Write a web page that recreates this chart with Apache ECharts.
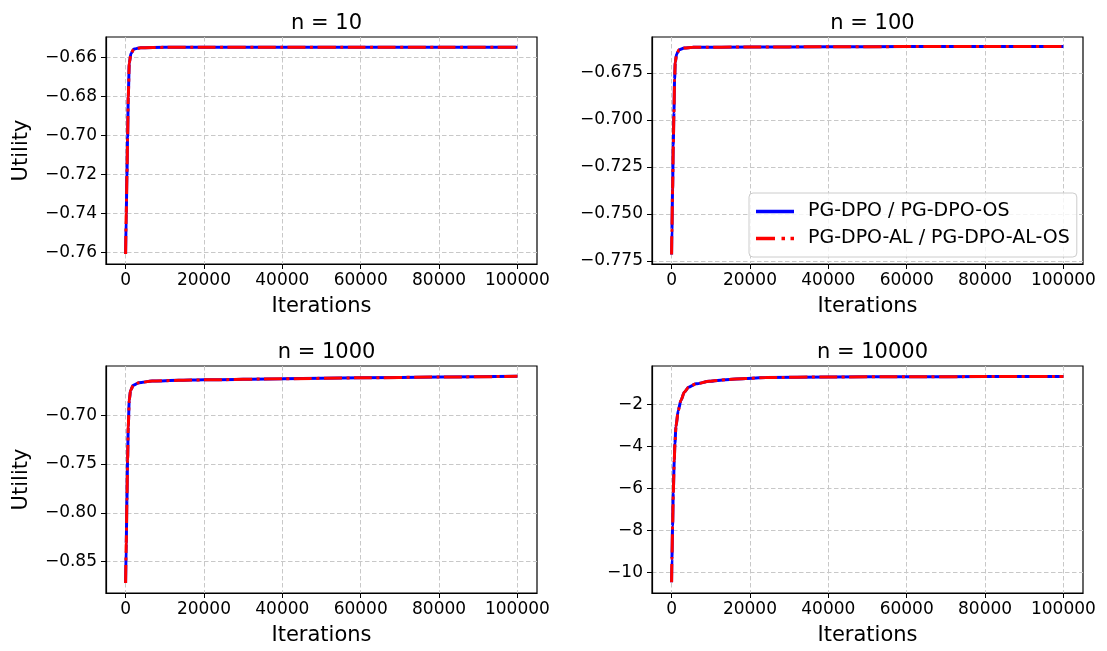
<!DOCTYPE html>
<html>
<head>
<meta charset="utf-8">
<script src="https://cdn.jsdelivr.net/npm/echarts@6/dist/echarts.min.js"></script>
<style>
html,body{margin:0;padding:0;background:#fff;}
#chart{width:1107px;height:651px;}
</style>
</head>
<body>
<div id="chart"></div>
<script>
// ---- data ----
const titles = ['n = 10', 'n = 100', 'n = 1000', 'n = 10000'];
const seriesNames = ['PG-DPO / PG-DPO-OS', 'PG-DPO-AL / PG-DPO-AL-OS'];
const xTicks = [0, 20000, 40000, 60000, 80000, 100000];

const iterN10 = [0, 171, 342, 513, 684, 940, 1368, 2137, 3846, 10000, 20000, 40000, 60000, 80000, 100000];
const utilN10 = [-0.7607, -0.7398, -0.7202, -0.7005, -0.6800, -0.6629, -0.6578, -0.6556, -0.6549, -0.6547, -0.6547, -0.6547, -0.6547, -0.6547, -0.6547];

const iterN100 = [0, 85, 255, 425, 596, 766, 936, 1277, 1957, 3234, 5361, 20000, 40000, 60000, 80000, 100000];
const utilN100 = [-0.7715, -0.7582, -0.7369, -0.7138, -0.6961, -0.6784, -0.6695, -0.6651, -0.6628, -0.6619, -0.6615, -0.6613, -0.6612, -0.6611, -0.6611, -0.6610];

const iterN1000 = [0, 169, 339, 508, 678, 932, 1271, 1948, 3388, 6776, 13552, 20000, 40000, 60000, 80000, 100000];
const utilN1000 = [-0.8718, -0.8310, -0.7867, -0.7459, -0.7119, -0.6847, -0.6745, -0.6694, -0.6667, -0.6650, -0.6643, -0.6638, -0.6627, -0.6617, -0.6609, -0.6602];

const iterN10000 = [0, 85, 255, 425, 681, 851, 1106, 1702, 2383, 3234, 4340, 6212, 9616, 13871, 18977, 24083, 40000, 60000, 80000, 100000];
const utilN10000 = [-10.47, -9.37, -7.80, -6.22, -4.65, -3.86, -3.07, -2.28, -1.81, -1.42, -1.18, -1.02, -0.90, -0.82, -0.76, -0.72, -0.69, -0.68, -0.675, -0.67];

const yTicksN10 = [-0.76, -0.74, -0.72, -0.70, -0.68, -0.66];
const yTicksN100 = [-0.775, -0.750, -0.725, -0.700, -0.675];
const yTicksN1000 = [-0.85, -0.80, -0.75, -0.70];
const yTicksN10000 = [-10, -8, -6, -4, -2];

// ---- layout ----
const FONT = 'DejaVu Sans';
const panels = [
  {left: 106, top: 37, iter: iterN10, util: utilN10, yTicks: yTicksN10, ymin: -0.7658, ymax: -0.6494, dec: 2, ylabel: true},
  {left: 652, top: 37, iter: iterN100, util: utilN100, yTicks: yTicksN100, ymin: -0.7766, ymax: -0.6560, dec: 3, ylabel: false},
  {left: 106, top: 366, iter: iterN1000, util: utilN1000, yTicks: yTicksN1000, ymin: -0.8820, ymax: -0.6496, dec: 2, ylabel: true},
  {left: 652, top: 366, iter: iterN10000, util: utilN10000, yTicks: yTicksN10000, ymin: -10.98, ymax: -0.17, dec: 0, ylabel: false}
];
const W = 431, H = 227;

const fmt = (v, d) => v.toFixed(d).replace('-', '\u2212');

const grid = [], xAxis = [], yAxis = [], series = [], title = [];
panels.forEach((p, i) => {
  grid.push({left: p.left, top: p.top, width: W, height: H, show: true, borderColor: '#000', borderWidth: 1.2, backgroundColor: 'transparent', containLabel: false});
  title.push({text: titles[i], left: p.left + W / 2, top: p.top - 29, textAlign: 'center',
    textStyle: {fontFamily: FONT, fontSize: 21, fontWeight: 'normal', color: '#000'}});
  xAxis.push({type: 'value', gridIndex: i, min: -5000, max: 105000,
    name: 'Iterations', nameLocation: 'middle', nameGap: 32,
    nameTextStyle: {fontFamily: FONT, fontSize: 21, color: '#000'},
    axisLine: {show: true, onZero: false, lineStyle: {color: '#000', width: 1.2}},
    axisTick: {show: true, length: 5, customValues: xTicks, lineStyle: {color: '#000', width: 1}},
    axisLabel: {customValues: xTicks, fontFamily: FONT, fontSize: 17, color: '#000', margin: 8, formatter: v => String(v)},
    splitLine: {show: true, lineStyle: {color: '#c8c8c8', type: [4.5, 2.5], width: 1}}
  });
  yAxis.push({type: 'value', gridIndex: i, min: p.ymin, max: p.ymax,
    name: p.ylabel ? 'Utility' : '', nameLocation: 'middle', nameGap: 74,
    nameTextStyle: {fontFamily: FONT, fontSize: 21, color: '#000'},
    axisLine: {show: true, onZero: false, lineStyle: {color: '#000', width: 1.2}},
    axisTick: {show: true, length: 5, customValues: p.yTicks, lineStyle: {color: '#000', width: 1}},
    axisLabel: {customValues: p.yTicks, fontFamily: FONT, fontSize: 17, color: '#000', margin: 9, formatter: v => fmt(v, p.dec)},
    splitLine: {show: true, lineStyle: {color: '#c8c8c8', type: [4.5, 2.5], width: 1}}
  });
  const pts = p.iter.map((x, k) => [x, p.util[k]]);
  series.push({name: seriesNames[0], type: 'line', xAxisIndex: i, yAxisIndex: i, data: pts,
    symbol: 'none', smooth: 0.25, smoothMonotone: 'x', clip: true, z: 3,
    lineStyle: {color: '#0000ff', width: 3, type: 'solid'}, itemStyle: {color: '#0000ff'}});
  series.push({name: seriesNames[1], type: 'line', xAxisIndex: i, yAxisIndex: i, data: pts,
    symbol: 'none', smooth: 0.25, smoothMonotone: 'x', clip: true, z: 4,
    lineStyle: {color: '#ff0000', width: 3, type: [18, 4.5, 3, 4.5], cap: 'butt'}, itemStyle: {color: '#ff0000'}});
});

const chart = echarts.init(document.getElementById('chart'), null, {renderer: 'canvas'});
chart.setOption({
  animation: false,
  backgroundColor: '#fff',
  title: title,
  grid: grid,
  xAxis: xAxis,
  yAxis: yAxis,
  legend: {
    data: [
      {name: seriesNames[0], icon: 'path://M0,0H38V3.5H0Z'},
      {name: seriesNames[1], icon: 'path://M0,0H19V3.5H0Z M25.5,0H29V3.5H25.5Z M34.5,0H38V3.5H34.5Z'}
    ],
    orient: 'vertical',
    left: 749, top: 193,
    itemWidth: 38, itemHeight: 3.5, itemGap: 8,
    symbolKeepAspect: false,
    padding: [9, 7, 9, 7],
    backgroundColor: 'rgba(255,255,255,0.8)',
    borderColor: '#cccccc', borderWidth: 1, borderRadius: 4,
    textStyle: {fontFamily: FONT, fontSize: 19, color: '#000', padding: [0, 0, 0, 9]},
    selectedMode: false
  },
  series: series
});
</script>
</body>
</html>
